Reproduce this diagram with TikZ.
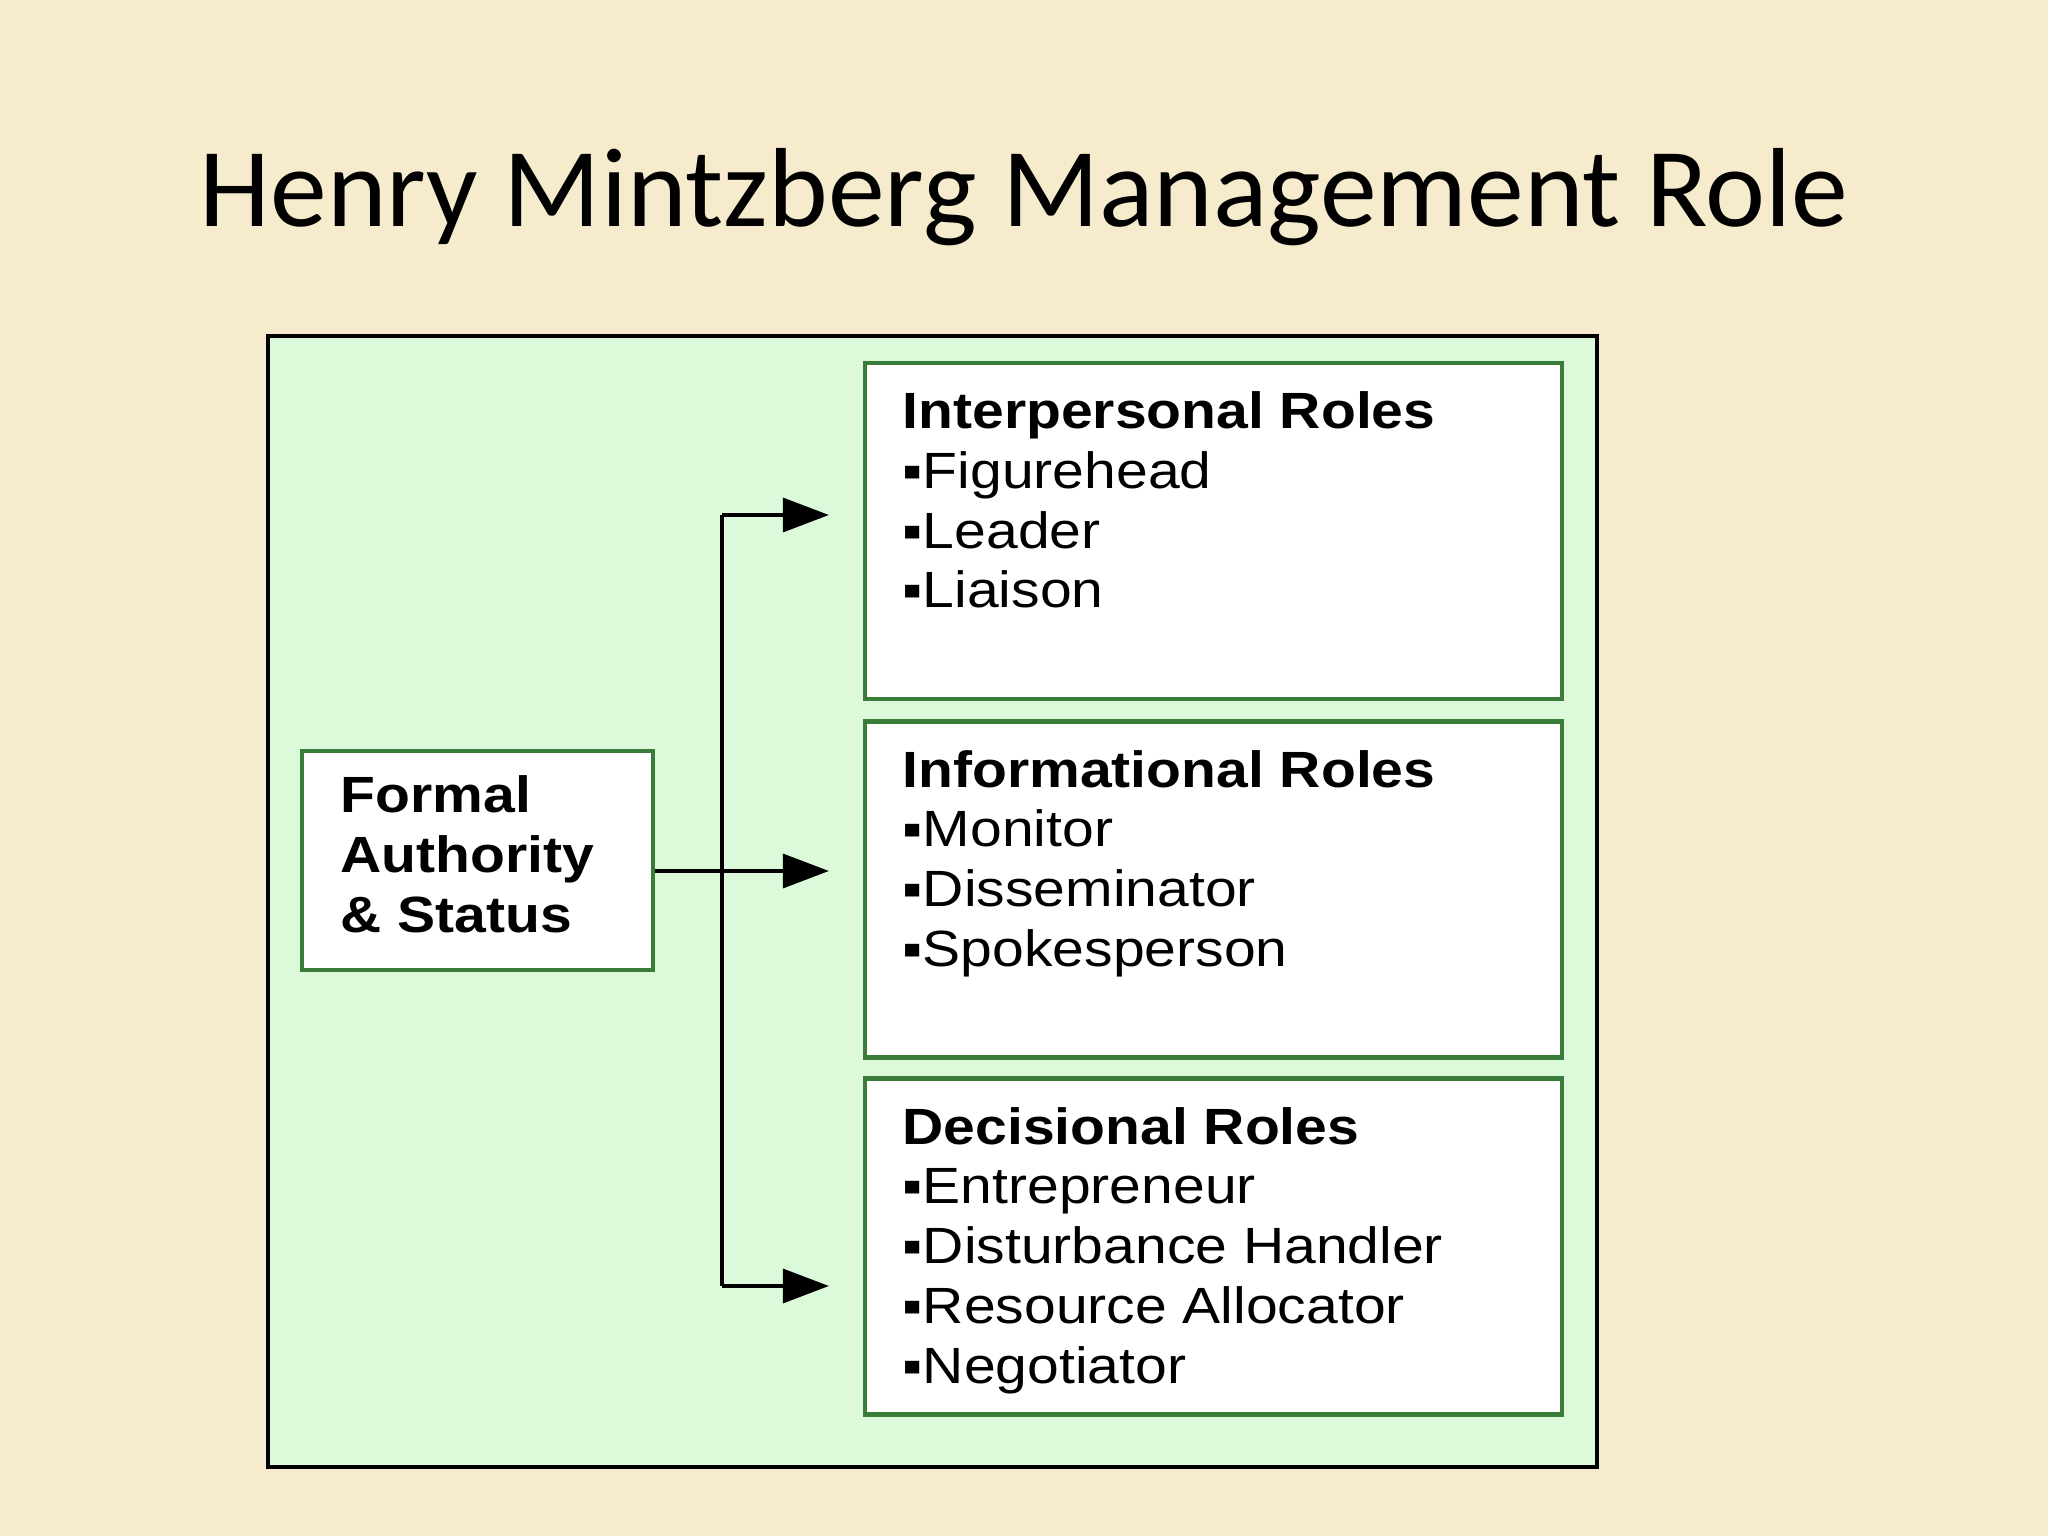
\documentclass[tikz,border=0pt]{standalone}
\usepackage{fontspec}
\setmainfont{Liberation Sans}
\newfontfamily\titlefont[FakeStretch=1.01]{Carlito}
\newfontfamily\rolefont[FakeStretch=1.12]{Liberation Sans}
\usetikzlibrary{arrows.meta}
\usetikzlibrary{positioning}
\definecolor{paper}{HTML}{F6ECCD}
\definecolor{mint}{HTML}{DCFADA}
\definecolor{boxgreen}{HTML}{3A7D3A}

\begin{document}
\begin{tikzpicture}[
		rolebox/.style={draw=boxgreen, line width=1.2pt, fill=white, minimum width=6.97cm, minimum height=3.36cm, inner sep=0pt},
		roletext/.style={anchor=north west, align=left, inner sep=0pt, font=\rolefont\fontsize{14.5}{17}\selectfont},
		conn/.style={line width=1pt, draw=black},
		tip/.style={-{Triangle[length=0.46cm, width=0.34cm]}, shorten >=0.34cm}
	]
	\fill[paper] (0,0) rectangle (20.48,-15.36);
	\useasboundingbox (0,0) rectangle (20.48,-15.36);
	\node[font=\titlefont\fontsize{32}{38}\selectfont, anchor=base] (title) at (10.24,-2.27) {Henry Mintzberg Management Role};
	\node[draw=black, line width=1.2pt, fill=mint, minimum width=13.29cm, minimum height=11.31cm] (frame) at (9.325,-9.015) {};
	% the three role boxes
	\node[rolebox] (inter) at (12.135,-5.31) {};
	\node[rolebox] (info) at (12.135,-8.895) {};
	\node[rolebox] (dec) at (12.135,-12.465) {};
	\node[rolebox, minimum width=3.51cm, minimum height=2.19cm] (formal) at (4.775,-8.605) {};
	\node[roletext] (formaltext) at ([shift={(0.40,-0.26)}]formal.north west) {\textbf{Formal}\\\textbf{Authority}\\\textbf{\& Status}};
	\node[roletext] (intertext) at ([shift={(0.39,-0.30)}]inter.north west) {\textbf{Interpersonal Roles}\\▪Figurehead\\▪Leader\\▪Liaison};
	\node[roletext] (infotext) at ([shift={(0.39,-0.30)}]info.north west) {\textbf{Informational Roles}\\▪Monitor\\▪Disseminator\\▪Spokesperson};
	\node[roletext] (dectext) at ([shift={(0.39,-0.30)}]dec.north west) {\textbf{Decisional Roles}\\▪Entrepreneur\\▪Disturbance Handler\\▪Resource Allocator\\▪Negotiator};
	% connectors
	\coordinate (jtop) at (7.22,-5.15);
	\coordinate (jmid) at (7.22,-8.71);
	\coordinate (jbot) at (7.22,-12.86);
	\draw[conn] (jtop) -- (jbot);
	\draw[conn, tip] (formal.east |- jmid) -- (jmid -| info.west);
	\draw[conn, tip] (jtop) -- (jtop -| inter.west);
	\draw[conn, tip] (jbot) -- (jbot -| dec.west);
\end{tikzpicture}
\end{document}
